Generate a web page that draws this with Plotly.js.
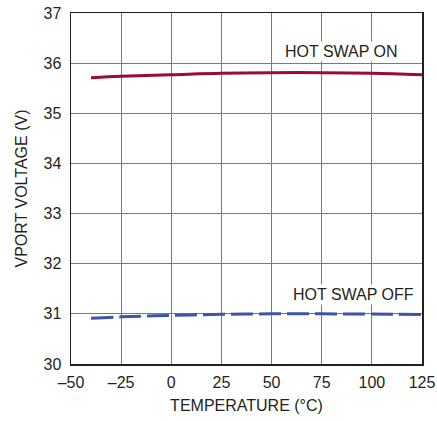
<!DOCTYPE html>
<html><head><meta charset="utf-8">
<script src="https://cdn.plot.ly/plotly-3.0.1.min.js"></script>
<style>html,body{margin:0;padding:0;background:#fff}#c{width:437px;height:421px}</style>
</head><body><div id="c"></div>
<script>
const temps = [-40, -25, 0, 25, 50, 75, 100, 125];
const hotSwapOn = [35.71, 35.74, 35.77, 35.80, 35.81, 35.81, 35.80, 35.77];
const hotSwapOff = [30.91, 30.94, 30.97, 30.99, 31.0, 31.0, 30.995, 30.985];
const xTickVals = [-50, -25, 0, 25, 50, 75, 100, 125];
const xTickText = ['–50', '–25', '0', '25', '50', '75', '100', '125'];
const yTickVals = [30, 31, 32, 33, 34, 35, 36, 37];

const F = '"Liberation Sans", Arial, sans-serif';
const data = [
  {x: temps, y: hotSwapOn, mode: 'lines', line: {color: '#9a0c33', width: 3, shape: 'spline'}, name: 'HOT SWAP ON'},
  {x: temps, y: hotSwapOff, mode: 'lines', line: {color: '#3b56a8', width: 3, dash: '22px,6px', shape: 'spline'}, name: 'HOT SWAP OFF'}
];
const layout = {
  width: 437, height: 421,
  margin: {l: 71, r: 15, t: 13, b: 57},
  paper_bgcolor: '#fff', plot_bgcolor: '#fff',
  showlegend: false,
  font: {family: F, size: 16, color: '#231f20'},
  xaxis: {range: [-50, 125], tickvals: xTickVals, ticktext: xTickText, showgrid: true, gridcolor: '#7a7a7a', gridwidth: 1,
    showline: true, linecolor: '#231f20', linewidth: 1.5, mirror: true, ticks: '', zeroline: false,
    tickfont: {family: F, size: 16}, ticklabelstandoff: 3,
    title: {text: 'TEMPERATURE (°C)', font: {family: F, size: 16}, standoff: 10}},
  yaxis: {range: [30, 37], tickvals: yTickVals, showgrid: true, gridcolor: '#7a7a7a', gridwidth: 1,
    showline: true, linecolor: '#231f20', linewidth: 1.5, mirror: true, ticks: '', zeroline: false,
    tickfont: {family: F, size: 16}, ticklabelstandoff: 5,
    title: {text: 'VPORT VOLTAGE (V)', font: {family: F, size: 16}, standoff: 12}},
  annotations: [
    {x: 85, y: 36, xref: 'x', yref: 'y', text: 'HOT SWAP ON', showarrow: false, xanchor: 'center', yanchor: 'bottom',
      bgcolor: '#fff', font: {family: F, size: 16, color: '#231f20'}, borderpad: 1, yshift: 1},
    {x: 91, y: 31.17, xref: 'x', yref: 'y', text: 'HOT SWAP OFF', showarrow: false, xanchor: 'center', yanchor: 'bottom',
      bgcolor: '#fff', font: {family: F, size: 16, color: '#231f20'}, borderpad: 1}
  ]
};
Plotly.newPlot('c', data, layout, {staticPlot: true, displayModeBar: false});
</script></body></html>
